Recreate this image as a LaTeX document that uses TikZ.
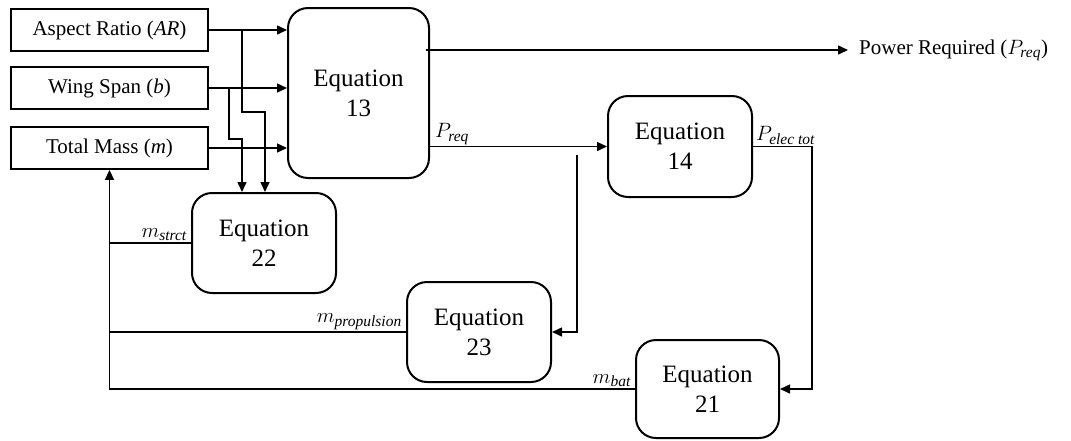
\documentclass[tikz,border=0pt]{standalone}
\usepackage{fontspec}
\setmainfont{Liberation Serif}
\usetikzlibrary{arrows.meta}
\newcommand{\msub}[2]{$#1_{\hbox{\fontsize{15.5}{16}\selectfont\itshape #2}}$}
\begin{document}
\begin{tikzpicture}[x=1pt,y=-1pt,
  inbox/.style={draw, line width=1.8pt, minimum width=197pt, minimum height=42pt, inner sep=0pt, font=\fontsize{21}{24}\selectfont},
  eqbox/.style={draw, line width=2pt, rounded corners=20pt, align=center, inner sep=0pt, font=\fontsize{25}{30}\selectfont},
  conn/.style={line width=1.5pt},
  arr/.style={conn, -{Triangle[length=10pt,width=9pt]}},
  lbl/.style={font=\fontsize{21}{24}\selectfont, inner sep=1pt}]
\useasboundingbox (0,0) rectangle (1071,440);

% input boxes
\node[inbox] (ar) at (109.5,30) {Aspect Ratio (\textit{AR})};
\node[inbox] (ws) at (109.5,88) {Wing Span (\textit{b})};
\node[inbox] (tm) at (109.5,148) {Total Mass (\textit{m})};

% equation boxes
\node[eqbox, minimum width=141pt, minimum height=170pt] (eq13) at (358.5,93) {Equation\\13};
\node[eqbox, minimum width=144pt, minimum height=101pt] (eq14) at (680,146.5) {Equation\\14};
\node[eqbox, minimum width=144pt, minimum height=100pt] (eq22) at (264,243) {Equation\\22};
\node[eqbox, minimum width=144pt, minimum height=100pt] (eq23) at (479,332) {Equation\\23};
\node[eqbox, minimum width=143pt, minimum height=98pt] (eq21) at (707.5,389) {Equation\\21};

% output label
\node[lbl, inner xsep=11pt, anchor=west] (pout) at (848,50) {Power Required (\msub{P}{req})};

% inputs to Equation 13
\draw[arr] (ar.east) -- (ar.east -| eq13.west);
\draw[arr] (ws.east) -- (ws.east -| eq13.west);
\draw[arr] (tm.east) -- (tm.east -| eq13.west);

% branches to Equation 22
\coordinate (j1) at (242,112);
\coordinate (j2) at (265,112);
\coordinate (j3) at (229,139);
\coordinate (j4) at (242,139);
\draw[arr] (ar.east -| j1) -- (j1) -- (j2) -- (j2 |- eq22.north);
\draw[arr] (ws.east -| j3) -- (j3) -- (j4) -- (j4 |- eq22.north);

% output
\draw[arr] ([xshift=-4pt]pout.west -| eq13.east) -- (pout.west);

% P_req to Equation 14
\draw[arr] (eq14.west -| eq13.east) -- (eq14.west);
\node[lbl, anchor=south west] at ([xshift=4pt,yshift=1pt]eq14.west -| eq13.east) {\msub{P}{req}};

% branch to Equation 23
\coordinate (k1) at (577,155);
\draw[arr] (k1) -- (k1 |- eq23.east) -- (eq23.east);

% P_elec tot to Equation 21
\coordinate (k2) at (812,0);
\draw[arr] (eq14.east) -- (eq14.east -| k2) -- (k2 |- eq21.east) -- (eq21.east);
\node[lbl, anchor=south west] at ([xshift=2pt,yshift=1pt]eq14.east) {\msub{P}{elec tot}};

% feedback masses
\draw[arr] (eq21.west) -- (eq21.west -| tm.south) -- (tm.south);
\draw[conn] (eq23.west) -- (eq23.west -| tm.south);
\draw[conn] (eq22.west) -- (eq22.west -| tm.south);
\node[lbl, anchor=south east] at ([xshift=-3pt,yshift=1pt]eq22.west) {\msub{m}{strct}};
\node[lbl, anchor=south east] at ([xshift=-3pt,yshift=1pt]eq23.west) {\msub{m}{propulsion}};
\node[lbl, anchor=south east] at ([xshift=-3pt,yshift=1pt]eq21.west) {\msub{m}{bat}};
\end{tikzpicture}
\end{document}
